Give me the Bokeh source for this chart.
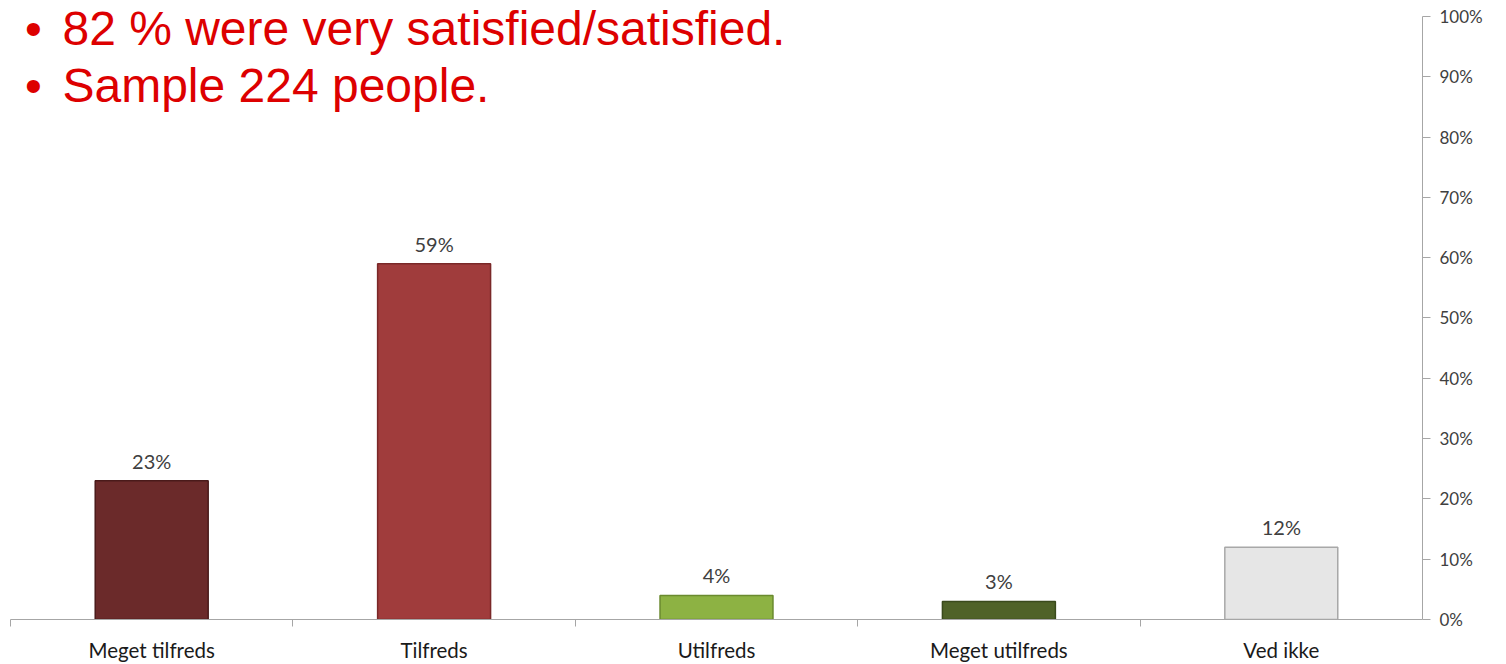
from bokeh.plotting import figure
from bokeh.models import Range1d, FixedTicker, Label
from bokeh.core.properties import value
from bokeh.embed import file_html
from bokeh.resources import INLINE

# ---- data ----
categories = ["Meget tilfreds", "Tilfreds", "Utilfreds", "Meget utilfreds", "Ved ikke"]
values = [0.23, 0.59, 0.04, 0.03, 0.12]
value_labels = ["23%", "59%", "4%", "3%", "12%"]
bar_colors = ["#6B2A2A", "#A03C3C", "#8DB243", "#4F6228", "#E6E6E6"]
edge_colors = ["#4A1A1A", "#7A2828", "#6A8A2E", "#3A4A1C", "#A8A8A8"]
y_ticks = [0.0, 0.1, 0.2, 0.3, 0.4, 0.5, 0.6, 0.7, 0.8, 0.9, 1.0]
y_tick_labels = ["0%", "10%", "20%", "30%", "40%", "50%", "60%", "70%", "80%", "90%", "100%"]
notes = ["82 % were very satisfied/satisfied.", "Sample 224 people."]

n = len(categories)
xs = [i + 0.5 for i in range(n)]
separators = [float(i) for i in range(0, n)]

# top headroom so the red notes are not clipped (100% stays 16px below the top)
y_top = 620 / 604

p = figure(width=1506, height=664, x_range=Range1d(0, n), y_range=Range1d(0, y_top),
           output_backend="svg", toolbar_location=None, y_axis_location="right",
           min_border_left=10, min_border_right=84, min_border_top=0, min_border_bottom=45)
p.outline_line_color = None
p.xgrid.grid_line_color = None
p.ygrid.grid_line_color = None
p.background_fill_color = "white"
p.border_fill_color = "white"

p.vbar(x=xs, top=values, width=0.40, fill_color=bar_colors, line_color=edge_colors, line_width=1.5)

p.text(x=xs, y=values, text=value_labels, text_align="center", text_baseline="bottom",
       y_offset=-8, text_font=value("Lato"), text_font_size="20px", text_color="#404040")

# x axis
xa = p.xaxis[0]
xa.ticker = FixedTicker(ticks=xs, minor_ticks=separators)
xa.major_label_overrides = {x: c for x, c in zip(xs, categories)}
xa.major_tick_line_color = None
xa.major_tick_out = 0
xa.major_tick_in = 0
xa.minor_tick_in = 0
xa.minor_tick_out = 7
xa.minor_tick_line_color = "#A6A6A6"
xa.axis_line_color = "#A6A6A6"
xa.major_label_standoff = 11
xa.major_label_text_font = "Lato"
xa.major_label_text_font_size = "20.5px"
xa.major_label_text_color = "#1A1A1A"

# y axis (right)
ya = p.yaxis[0]
ya.ticker = FixedTicker(ticks=y_ticks)
ya.bounds = (0, 1)
ya.major_label_overrides = {t: l for t, l in zip(y_ticks, y_tick_labels)}
ya.minor_tick_line_color = None
ya.major_tick_in = 0
ya.major_tick_out = 8
ya.major_tick_line_color = "#A6A6A6"
ya.axis_line_color = "#A6A6A6"
ya.major_label_standoff = 9
ya.major_label_text_font = "Lato"
ya.major_label_text_font_size = "17px"
ya.major_label_text_color = "#404040"

# red bullet notes
note_y = [0.9801, 0.8858]
for txt, yy in zip(notes, note_y):
    p.add_layout(Label(x=0.0814, y=yy, text="\u2022", text_align="center", text_baseline="middle",
                       text_font="Liberation Sans", text_font_size="48px", text_color="#DD0000"))
    p.add_layout(Label(x=0.184, y=yy, text=txt, text_align="left", text_baseline="middle",
                       text_font="Liberation Sans", text_font_size="48px", text_color="#DD0000"))

open("out.html", "w").write(file_html(p, INLINE))
